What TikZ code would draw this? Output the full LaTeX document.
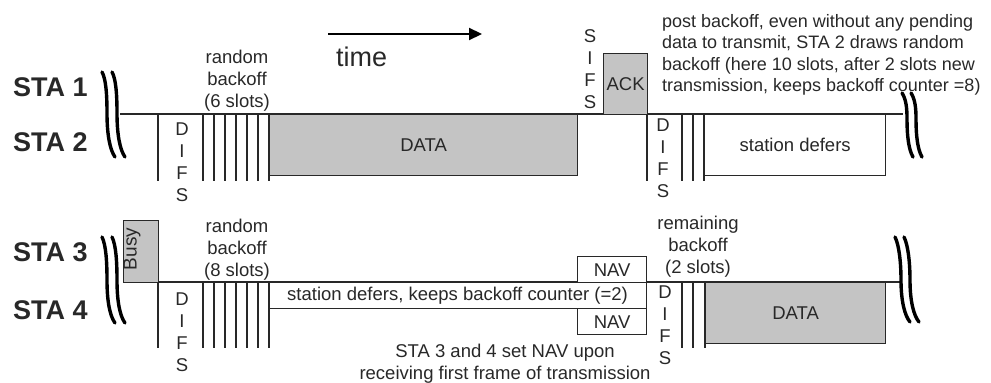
\documentclass[tikz,border=0pt]{standalone}
\usepackage{fontspec}
\setmainfont{Liberation Sans}
\usetikzlibrary{arrows.meta}
\definecolor{ink}{RGB}{40,40,40}
\definecolor{shade}{RGB}{196,196,196}
\tikzset{
  ln/.style={draw=ink, line width=1.3pt},
  framebox/.style={draw=ink, line width=1.3pt, inner sep=0pt, anchor=north west, text=ink,
                   font=\fontsize{18.5}{21}\selectfont},
  busybox/.style={framebox, fill=shade},
  freebox/.style={framebox, fill=white},
  lbl/.style={text=ink, inner sep=0pt, align=center, font=\fontsize{18.5}{22}\selectfont},
  stalbl/.style={text=ink, inner sep=0pt, anchor=west, font=\bfseries\fontsize{27}{27}\selectfont},
  brk/.style={draw=black, line width=3.4pt, line cap=round},
}
\begin{document}
\begin{tikzpicture}[x=1pt,y=-1pt]
\useasboundingbox (0,0) rectangle (991,383);

% ---------------- STA 1 / STA 2 ----------------
\node[stalbl] (sta1) at (13,87) {STA 1};
\node[stalbl] (sta2) at (13,142) {STA 2};
\foreach \d in {0,10}
  \draw[brk, xshift=\d] (102,72) .. controls (106,79) and (107,95) .. (107,113)
        .. controls (107,135) and (110,150) .. (115,157);

\coordinate (ua) at (120,114);
\coordinate (ub) at (903,114);
\draw[ln] (ua) -- (ub);

% DIFS and 6 backoff slots
\foreach \x in {158,203,214,225,236,247,258,269}
  \draw[ln] (\x,114) -- (\x,181);
\node[lbl] (difs1) at (182,162.5) {D\\I\\F\\S};
\node[lbl] (rb1) at (237,80.5) {random\\backoff\\(6 slots)};

\node[busybox, minimum width=308, minimum height=61] (data1) at (269,114) {DATA};

% time arrow
\coordinate (ta) at (328,34);
\coordinate (tb) at (482,34);
\draw[draw=black, line width=2.2pt, -{Triangle[length=13pt,width=12pt]}] (ta) -- (tb);
\node[text=ink, inner sep=0pt, anchor=west, font=\fontsize{27}{27}\selectfont] (time) at (336,57) {time};

% SIFS and ACK
\node[lbl] (sifs) at (590,69.5) {S\\I\\F\\S};
\node[busybox, minimum width=44, minimum height=61] (ack) at (603,53) {ACK};

% post backoff
\foreach \x in {647,682,693,704}
  \draw[ln] (\x,114) -- (\x,181);
\node[lbl] (difs2) at (663,158.5) {D\\I\\F\\S};
\node[freebox, minimum width=181, minimum height=61] (defer2) at (704,114) {station defers};
\node[lbl, align=left, anchor=west, font=\fontsize{18}{21.5}\selectfont] (post) at (662,55)
  {post backoff, even without any pending\\data to transmit, STA 2 draws random\\backoff (here 10 slots, after 2 slots new\\transmission, keeps backoff counter =8)};
\foreach \d in {0,9}
  \draw[brk, xshift=\d] (902,93) .. controls (906,99) and (907,108) .. (907,118)
        .. controls (907,138) and (909,150) .. (913,157);

% ---------------- STA 3 / STA 4 ----------------
\node[stalbl] (sta3) at (13,252) {STA 3};
\node[stalbl] (sta4) at (13,310) {STA 4};
\foreach \d in {0,10}
  \draw[brk, xshift=\d] (102,237) .. controls (106,245) and (107,262) .. (107,280)
        .. controls (107,302) and (110,316) .. (115,323);

\coordinate (la) at (123,282);
\coordinate (lb) at (902,282);
\draw[ln] (la) -- (lb);

\node[busybox, minimum width=35, minimum height=62] (busy) at (123,220) {};
\node[lbl, rotate=90, font=\fontsize{19}{19}\selectfont] (busyt) at (132,249) {Busy};

% DIFS and 8 backoff slots
\foreach \x in {158,203,214,225,236,247,258,269}
  \draw[ln] (\x,282) -- (\x,348);
\node[lbl] (difs3) at (182,332.5) {D\\I\\F\\S};
\node[lbl] (rb3) at (237,250) {random\\backoff\\(8 slots)};

% deferral with NAV
\node[freebox, minimum width=377, minimum height=26] (defer4) at (269,282) {};
\node[lbl] (defert) at (457.5,296) {station defers, keeps backoff counter (=2)};
\node[freebox, minimum width=69, minimum height=26] (nav3) at (577,256) {NAV};
\node[freebox, minimum width=69, minimum height=26] (nav4) at (577,308) {NAV};
\node[lbl] (navnote) at (505,364) {STA 3 and 4 set NAV upon\\receiving first frame of transmission};

% remaining backoff and transmission
\foreach \x in {682,693,705}
  \draw[ln] (\x,282) -- (\x,348);
\node[lbl] (difs4) at (665,325) {D\\I\\F\\S};
\node[lbl] (rem) at (698,247) {remaining\\backoff\\(2 slots)};
\node[busybox, minimum width=180, minimum height=61] (data4) at (705,282) {DATA};
\foreach \d in {0,9}
  \draw[brk, xshift=\d] (895,237) .. controls (899,245) and (901,262) .. (901,280)
        .. controls (901,302) and (905,316) .. (910,322);
\end{tikzpicture}
\end{document}
